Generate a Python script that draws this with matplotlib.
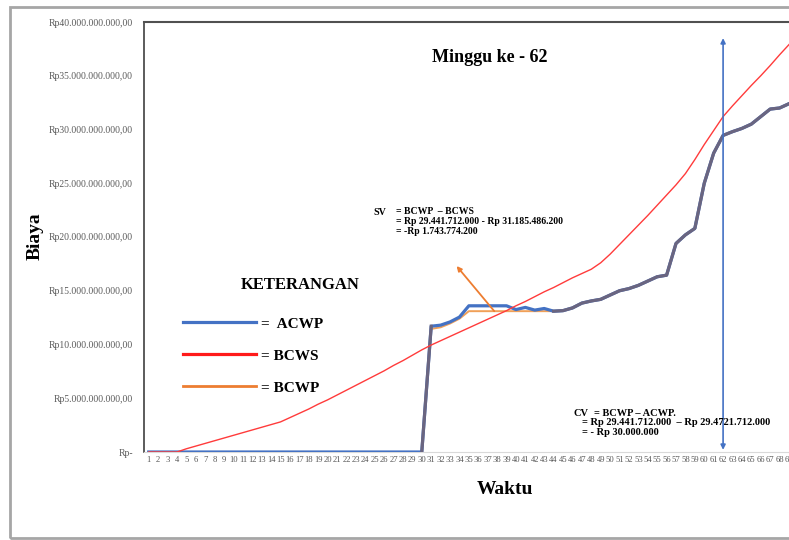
import numpy as np
import matplotlib
matplotlib.use("Agg")
import matplotlib.pyplot as plt
from matplotlib.lines import Line2D
from matplotlib.patches import Rectangle
from matplotlib.ticker import FuncFormatter

# Nilai dalam miliar rupiah, per minggu
weeks = np.arange(1, 70)

bcws = [0, 0, 0, 0,
        0.3, 0.55, 0.8, 1.05, 1.3, 1.55, 1.8, 2.05, 2.3, 2.55, 2.8,
        3.2, 3.6, 4.0, 4.45, 4.85, 5.3, 5.75, 6.2, 6.65, 7.1, 7.55, 8.05, 8.5, 9.0, 9.5,
        9.95, 10.35, 10.75, 11.15, 11.55, 11.95, 12.35, 12.75, 13.15, 13.6, 14.0, 14.45,
        14.9, 15.3, 15.75, 16.2, 16.6, 17.0, 17.6,
        18.4, 19.3, 20.2, 21.1, 22.0, 22.95, 23.9, 24.85, 25.9, 27.2, 28.6, 29.9, 31.2,
        32.2, 33.15, 34.1, 35.0, 35.95, 36.95, 37.9]

acwp = [0] * 30 + [
        11.7, 11.8, 12.1, 12.55, 13.6, 13.6, 13.6, 13.6, 13.6, 13.25, 13.45, 13.2, 13.35, 13.1,
        13.15, 13.4, 13.85, 14.05, 14.2, 14.6, 15.0, 15.2, 15.5, 15.9, 16.3, 16.45,
        19.4, 20.2, 20.8, 25.0, 27.8, 29.45, 29.8, 30.1, 30.5, 31.2, 31.9, 32.0, 32.4]

bcwp = [0] * 30 + [11.45, 11.6, 11.95, 12.4, 13.1] + [13.1] * 9 + acwp[44:]

week_now = 62
y_ticks = np.arange(0, 45, 5)

bcws = np.array(bcws) * 1e9
acwp = np.array(acwp) * 1e9
bcwp = np.array(bcwp) * 1e9

SERIF = "Liberation Serif"
W, H = 789, 540

def fx(px):
    return px / W

def fy(py):
    return 1 - py / H

fig = plt.figure(figsize=(W / 100, H / 100), dpi=100)
fig.patches.append(Rectangle((fx(10), 2 / H), 1.0, 531 / H, transform=fig.transFigure,
                             fill=False, ec="#A6A6A6", lw=2))

ax = fig.add_axes([fx(144), 88 / H, (W - 144) / W, 430 / H])

# garis data
ax.plot(weeks, bcwp, color="#F0A058", lw=1.4, zorder=2)
ax.plot(weeks, acwp, color="#4472C4", lw=2.3, zorder=3)
same = np.isclose(acwp, bcwp) & (acwp > 0)
ax.plot(weeks, np.where(same, acwp, np.nan), color="#6A6580", lw=2.3, zorder=4)
ax.plot(weeks[29:31], acwp[29:31], color="#6A6580", lw=2.3, zorder=4)
ax.plot(weeks, bcws, color="#FF3B3B", lw=1.0, zorder=5)

# panah
ax.annotate("", xy=(week_now, 38.5e9), xytext=(week_now, 0.2e9),
            arrowprops=dict(arrowstyle="<|-|>", color="#4472C4", lw=1.2,
                            mutation_scale=7, shrinkA=0, shrinkB=0), zorder=6)
ax.annotate("", xy=(33.7, 17.3e9), xytext=(37.7, 13.1e9),
            arrowprops=dict(arrowstyle="-|>", color="#ED7D31", lw=1.3,
                            mutation_scale=7, shrinkA=0, shrinkB=0), zorder=6)

ax.set_xlim(0.5, 68.7)
ax.set_ylim(0, 40e9)
ax.set_xticks(weeks)
ax.set_xticklabels([str(w) for w in weeks])
ax.set_yticks(y_ticks * 1e9)

def rp(v, pos):
    if v == 0:
        return "Rp-"
    s = "{:,.2f}".format(v).replace(",", "X").replace(".", ",").replace("X", ".")
    return "Rp" + s

ax.yaxis.set_major_formatter(FuncFormatter(rp))
ax.tick_params(axis="y", length=0, pad=8, labelsize=6.9, labelcolor="#595959")
ax.tick_params(axis="x", length=0, pad=3, labelsize=6.2, labelcolor="#595959")
for lab in ax.get_xticklabels() + ax.get_yticklabels():
    lab.set_fontfamily(SERIF)

ax.spines["right"].set_visible(False)
ax.spines["left"].set_color("#404040")
ax.spines["top"].set_color("#505050")
ax.spines["left"].set_linewidth(1.2)
ax.spines["top"].set_linewidth(1.5)
ax.spines["bottom"].set_color("#D9D9D9")

# teks
fig.text(fx(490), fy(58), "Minggu ke - 62", ha="center", va="center",
         fontsize=13, fontweight="bold", family=SERIF)
fig.text(fx(35), fy(236), "Biaya", ha="center", va="center", rotation=90,
         fontsize=14, fontweight="bold", family=SERIF)
fig.text(fx(505), fy(490), "Waktu", ha="center", va="center",
         fontsize=14, fontweight="bold", family=SERIF)
fig.text(fx(300), fy(285), "KETERANGAN", ha="center", va="center",
         fontsize=12, fontweight="bold", family=SERIF)

fig.text(fx(373), fy(213), "SV", ha="left", va="center",
         fontsize=7.2, fontweight="bold", family=SERIF)
fig.text(fx(396), fy(207), "= BCWP  – BCWS\n= Rp 29.441.712.000 - Rp 31.185.486.200\n= -Rp 1.743.774.200",
         ha="left", va="top", fontsize=7.0, fontweight="bold", family=SERIF, linespacing=1.15)

fig.text(fx(574), fy(413), "CV", ha="left", va="center",
         fontsize=7.5, fontweight="bold", family=SERIF)
fig.text(fx(594), fy(413), "= BCWP – ACWP.", ha="left", va="center",
         fontsize=7.5, fontweight="bold", family=SERIF)
fig.text(fx(582), fy(418), "= Rp 29.441.712.000  – Rp 29.4721.712.000\n= - Rp 30.000.000",
         ha="left", va="top", fontsize=7.5, fontweight="bold", family=SERIF, linespacing=1.12)

# keterangan
handles = [Line2D([], [], color="#4472C4", lw=2.3),
           Line2D([], [], color="#FF1A1A", lw=2.3),
           Line2D([], [], color="#ED7D31", lw=2.0)]
labels = ["=  ACWP", "= BCWS", "= BCWP"]
fig.legend(handles, labels, loc="upper left", bbox_to_anchor=(fx(183), fy(317)),
           frameon=False, borderpad=0, borderaxespad=0, handlelength=4.8,
           handletextpad=0.3, labelspacing=1.2,
           prop={"family": SERIF, "weight": "bold", "size": 11})

fig.savefig("out.png", dpi=100)
